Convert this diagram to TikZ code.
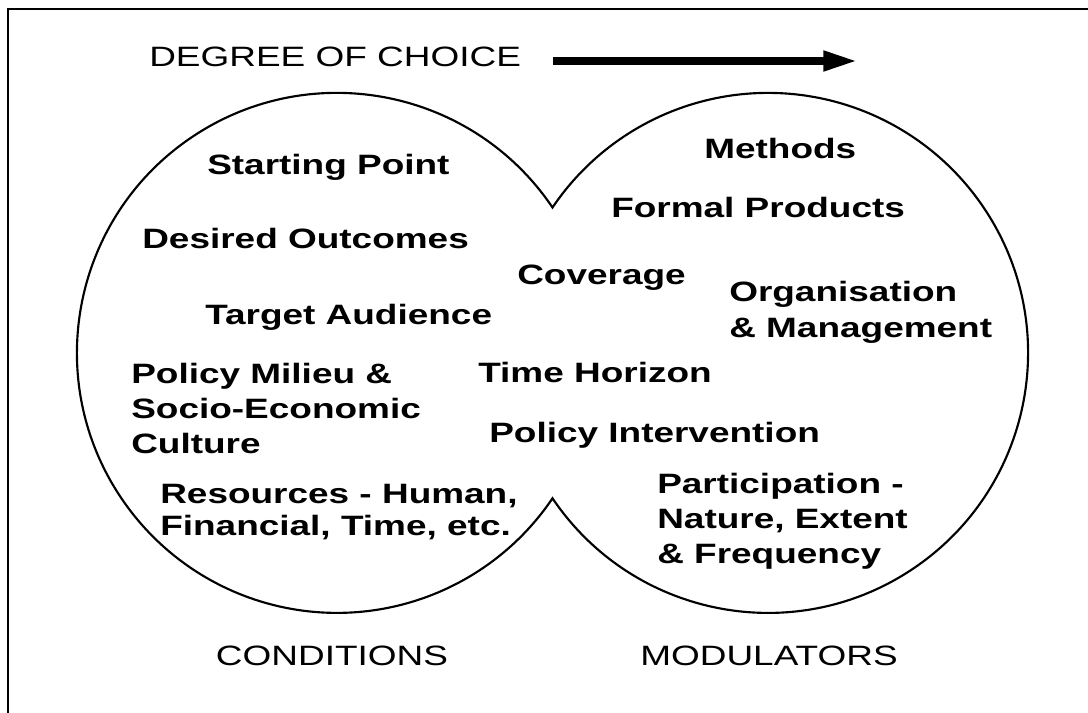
\documentclass[tikz,border=0pt]{standalone}
\usepackage{fontspec}
\newfontfamily\wf{Liberation Sans}[FakeStretch=1.32]
\usetikzlibrary{arrows.meta}
\begin{document}
\begin{tikzpicture}[x=0.75pt,y=-0.75pt,
  lbl/.style={inner sep=0pt,anchor=base west,align=left,font=\wf\bfseries\fontsize{21}{26}\selectfont},
  captext/.style={inner sep=0pt,anchor=base,font=\wf\fontsize{21}{26}\selectfont},
  frameline/.style={line width=1.1pt},
  outline/.style={line width=1.6pt,line join=miter},
  bigarrow/.style={line width=6pt,-{Triangle[length=26pt,width=14pt]}}]
\useasboundingbox (0,0) rectangle (1088,713);
% frame (only top and left edges visible)
\draw[frameline] (1088,9) -- (8,9) -- (8,713);
% title and arrow
\node[inner sep=0pt,anchor=base west,font=\wf\fontsize{21}{26}\selectfont] (title) at (149,67) {DEGREE OF CHOICE};
\coordinate (arrS) at (553,61);
\coordinate (arrE) at (858,61);
\draw[bigarrow] (arrS) -- (arrE);
% outline of the two merged circles
\coordinate (topcusp) at (552.5,207.5);
\draw[outline] (topcusp) arc[start angle=34,end angle=326,radius=195pt]
  arc[start angle=214,end angle=506,radius=195pt] -- cycle;
% left circle labels (multi-line nodes: base = last line)
\node[lbl] (sp) at (207,175) {Starting Point};
\node[lbl] (do) at (142,248) {Desired Outcomes};
\node[lbl] (ta) at (205,324) {Target Audience};
\node[lbl] (pm) at (131,453) {Policy Milieu \&\\Socio-Economic\\Culture};
\node[lbl,font=\wf\bfseries\fontsize{21}{24}\selectfont] (rs) at (160,535) {Resources - Human,\\Financial, Time, etc.};
% middle labels
\node[lbl] (cv) at (517,284) {Coverage};
\node[lbl] (th) at (478,382) {Time Horizon};
\node[lbl] (pi) at (489,442) {Policy Intervention};
% right circle labels
\node[lbl] (me) at (704,159) {Methods};
\node[lbl] (fp) at (611,217) {Formal Products};
\node[lbl,font=\wf\bfseries\fontsize{21}{27}\selectfont] (om) at (729,337) {Organisation\\\& Management};
\node[lbl] (pa) at (657,563) {Participation -\\Nature, Extent\\\& Frequency};
% captions
\node[captext] (cond) at (332,665) {CONDITIONS};
\node[captext] (mod) at (769,665) {MODULATORS};
\end{tikzpicture}
\end{document}
